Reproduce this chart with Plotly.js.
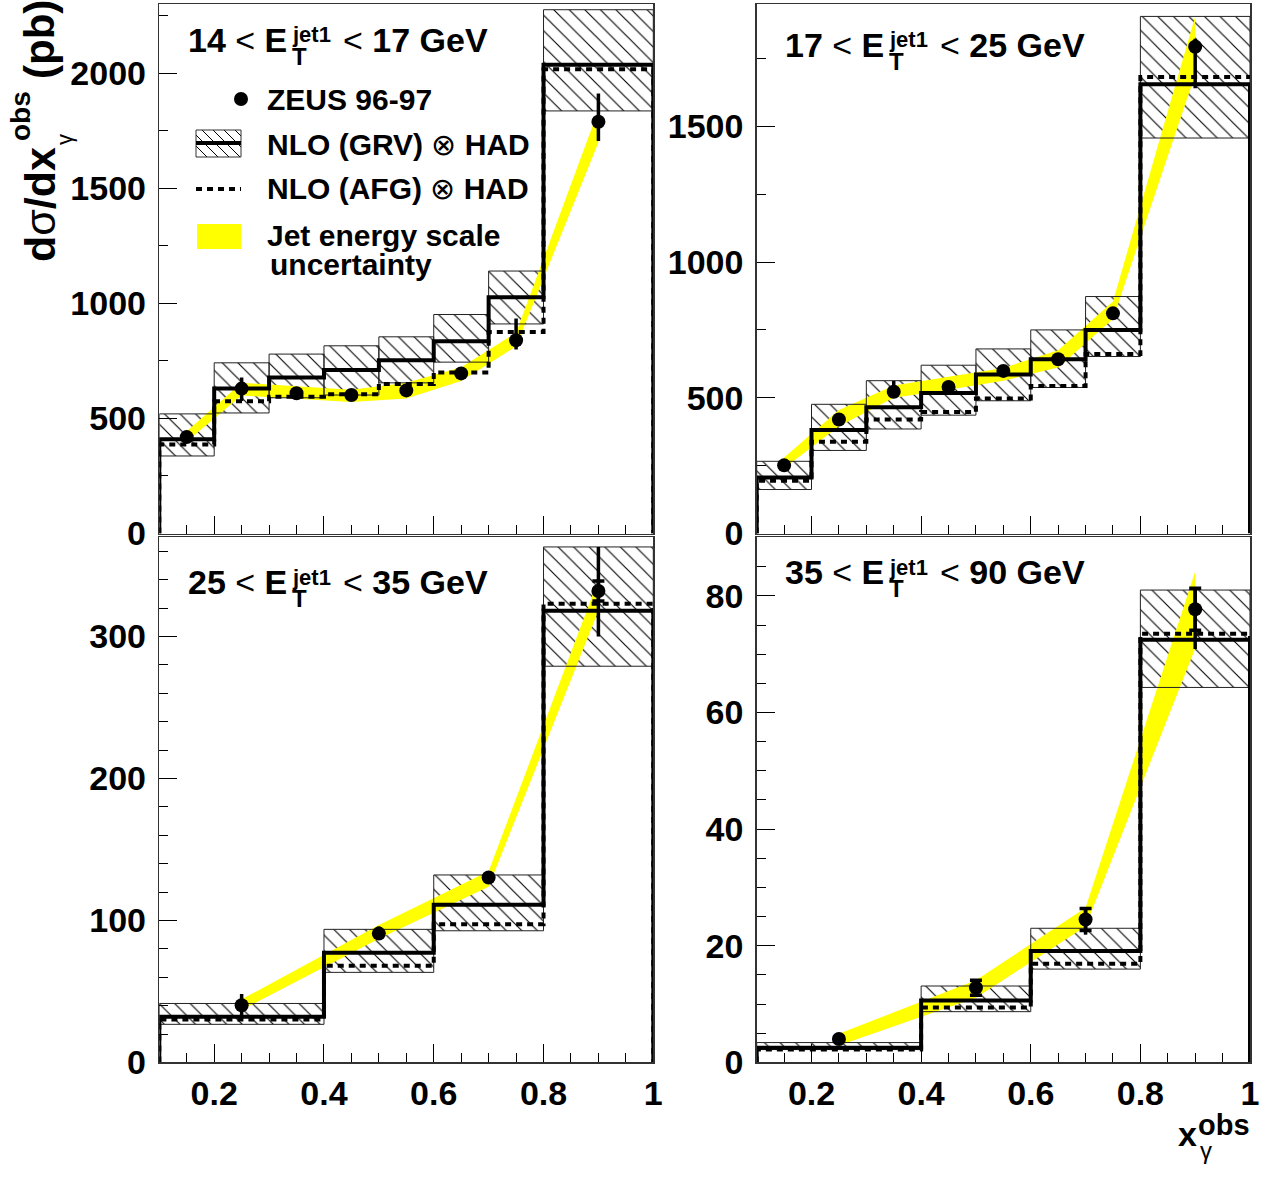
<!DOCTYPE html>
<html><head><meta charset="utf-8">
<script src="https://cdn.plot.ly/plotly-3.0.1.min.js"></script>
<style>html,body{margin:0;padding:0;background:#fff}</style>
</head><body><div id="chart" style="width:1274px;height:1177px"></div>
<script>
// ---------------- DATA ----------------
const edgesFine = [0.1,0.2,0.3,0.4,0.5,0.6,0.7,0.8,1.0];
const edgesCoarse = [0.1,0.4,0.6,0.8,1.0];
const centersFine = [0.15,0.25,0.35,0.45,0.55,0.65,0.75,0.9];
const centersCoarse = [0.25,0.5,0.7,0.9];
const xTickVals = [0.2,0.4,0.6,0.8,1.0];
const xTickText = ['0.2','0.4','0.6','0.8','1'];
const etLow = ['14','17','25','35'];
const etHigh = ['17','25','35','90'];

// panel 1: 14 < ET < 17 GeV
const p1GRV   = [410,630,678,711,753,836,1027,2038];
const p1AFG   = [387,575,595,605,650,700,876,2018];
const p1BoxHi = [520,742,780,816,855,952,1141,2277];
const p1BoxLo = [337,524,590,602,655,745,911,1837];
const p1Pts   = [419,630,610,602,622,696,840,1790];
const p1ErrUp = [20,48,20,15,20,20,95,123];
const p1ErrDn = [20,54,20,15,20,20,40,84];
const p1BandLo = [400,600,587,572,587,663,813,1700];
const p1BandHi = [445,655,640,625,655,723,873,1840];
const p1YTicks = [0,500,1000,1500,2000];

// panel 2: 17 < ET < 25 GeV
const p2GRV   = [206,381,465,518,586,642,750,1655];
const p2AFG   = [194,338,420,448,497,543,661,1682];
const p2BoxHi = [266,476,563,620,680,750,873,1905];
const p2BoxLo = [162,306,385,436,489,538,652,1457];
const p2Pts   = [251,420,522,540,599,642,811,1793];
const p2ErrUp = [12,20,40,15,15,15,20,30];
const p2ErrDn = [12,20,20,15,15,15,20,153];
const p2BandLo = [240,395,500,530,563,612,790,1690];
const p2BandHi = [280,455,545,578,610,675,855,1905];
const p2YTicks = [0,500,1000,1500];

// panel 3: 25 < ET < 35 GeV
const p3GRV   = [32.2,77.3,111,318];
const p3AFG   = [30.2,68,97.3,323];
const p3BoxHi = [41.5,93.7,132,363];
const p3BoxLo = [26.8,63.4,92.7,279];
const p3Pts   = [40.2,90.7,130.2,332];
const p3ErrUp = [8,5,3,31];
const p3ErrDn = [8,3,3,32];
const p3Stat  = [0,0,0,7];
const p3BandLo = [37,87,123.7,318];
const p3BandHi = [44.4,96.8,134.6,340];
const p3YTicks = [0,100,200,300];

// panel 4: 35 < ET < 90 GeV
const p4GRV   = [2.5,10.6,19.1,72.5];
const p4AFG   = [2.2,9.4,16.9,73.5];
const p4BoxHi = [3.4,13.1,23.0,81.0];
const p4BoxLo = [2.2,8.7,16.0,64.3];
const p4Pts   = [4.0,12.8,24.5,77.7];
const p4ErrUp = [0.5,1.3,2.0,3.6];
const p4ErrDn = [0.5,1.3,2.6,6.8];
const p4Stat  = [0.3,1.3,1.9,3.6];
const p4BandLo = [2.9,11.1,23.3,71];
const p4BandHi = [4.9,14.1,26.5,84.2];
const p4YTicks = [0,20,40,60,80];

// ---------------- LAYOUT HELPERS ----------------
const W = 1274, H = 1177;
const fx = p => p / W;
const fy = p => 1 - p / H;
const FONT = 'Liberation Sans, Arial, Helvetica, sans-serif';

const panels = [
  {left:159.3, right:653.3, top:4.2, bottom:533.5, yMax:2301, yMinor:250, yTicks:p1YTicks,
   edges:edgesFine, centers:centersFine, grv:p1GRV, afg:p1AFG, hi:p1BoxHi, lo:p1BoxLo,
   pts:p1Pts, eUp:p1ErrUp, eDn:p1ErrDn, stat:null, bLo:p1BandLo, bHi:p1BandHi, base:52, xlab:false},
  {left:756.7, right:1250, top:4.2, bottom:533.5, yMax:1950, yMinor:250, yTicks:p2YTicks,
   edges:edgesFine, centers:centersFine, grv:p2GRV, afg:p2AFG, hi:p2BoxHi, lo:p2BoxLo,
   pts:p2Pts, eUp:p2ErrUp, eDn:p2ErrDn, stat:null, bLo:p2BandLo, bHi:p2BandHi, base:57, xlab:false},
  {left:159.3, right:653.3, top:537, bottom:1062.4, yMax:370, yMinor:20, yTicks:p3YTicks,
   edges:edgesCoarse, centers:centersCoarse, grv:p3GRV, afg:p3AFG, hi:p3BoxHi, lo:p3BoxLo,
   pts:p3Pts, eUp:p3ErrUp, eDn:p3ErrDn, stat:p3Stat, bLo:p3BandLo, bHi:p3BandHi, base:594, xlab:true},
  {left:756.7, right:1250, top:537, bottom:1062.4, yMax:90.1, yMinor:5, yTicks:p4YTicks,
   edges:edgesCoarse, centers:centersCoarse, grv:p4GRV, afg:p4AFG, hi:p4BoxHi, lo:p4BoxLo,
   pts:p4Pts, eUp:p4ErrUp, eDn:p4ErrDn, stat:p4Stat, bLo:p4BandLo, bHi:p4BandHi, base:584, xlab:true}
];

function stepPath(edges, v){
  const x=[edges[0]], y=[0];
  for(let i=0;i<v.length;i++){ x.push(edges[i], edges[i+1]); y.push(v[i], v[i]); }
  x.push(edges[edges.length-1]); y.push(0);
  return {x, y};
}
function boxPath(edges, lo, hi){
  const x=[], y=[];
  for(let i=0;i<lo.length;i++){
    x.push(edges[i],edges[i+1],edges[i+1],edges[i],edges[i],null);
    y.push(lo[i],lo[i],hi[i],hi[i],lo[i],null);
  }
  return {x, y};
}

const traces = [];
const layout = {
  width: W, height: H, margin:{l:0,r:0,t:0,b:0},
  paper_bgcolor:'#fff', plot_bgcolor:'#fff', showlegend:false,
  font:{family:FONT, color:'#000'},
  annotations: [], shapes: []
};

panels.forEach((p, i) => {
  const s = i === 0 ? '' : String(i+1);
  const xa = 'x'+s, ya = 'y'+s;
  const box = boxPath(p.edges, p.lo, p.hi);
  // hatched uncertainty boxes (pattern)
  traces.push({type:'scatter', mode:'lines', x:box.x, y:box.y, xaxis:xa, yaxis:ya,
    fill:'toself', fillcolor:'rgba(0,0,0,0)', line:{width:0, color:'rgba(0,0,0,0)'},
    fillpattern:{shape:'\\', size:11, solidity:0.1, fgcolor:'#000', bgcolor:'rgba(0,0,0,0)', fillmode:'replace'},
    hoverinfo:'skip'});
  // yellow band
  const bx = p.centers.concat(p.centers.slice().reverse());
  const by = p.bHi.concat(p.bLo.slice().reverse());
  traces.push({type:'scatter', mode:'lines', x:bx, y:by, xaxis:xa, yaxis:ya,
    fill:'toself', fillcolor:'#ffff00', line:{width:0, color:'rgba(0,0,0,0)'}, hoverinfo:'skip'});
  // box borders
  traces.push({type:'scatter', mode:'lines', x:box.x, y:box.y, xaxis:xa, yaxis:ya,
    line:{width:1, color:'#222'}, hoverinfo:'skip'});
  // AFG dashed histogram
  const a = stepPath(p.edges, p.afg);
  traces.push({type:'scatter', mode:'lines', x:a.x, y:a.y, xaxis:xa, yaxis:ya,
    line:{width:4, color:'#000', dash:'6px,5px'}, hoverinfo:'skip'});
  // GRV solid histogram
  const g = stepPath(p.edges, p.grv);
  traces.push({type:'scatter', mode:'lines', x:g.x, y:g.y, xaxis:xa, yaxis:ya,
    line:{width:4, color:'#000'}, hoverinfo:'skip'});
  // statistical errors with caps
  if (p.stat){
    traces.push({type:'scatter', mode:'markers', x:p.centers, y:p.pts, xaxis:xa, yaxis:ya,
      marker:{size:1, color:'rgba(0,0,0,0)'},
      error_y:{type:'data', array:p.stat, visible:true, color:'#000', thickness:3.5, width:6},
      hoverinfo:'skip'});
  }
  // data points
  traces.push({type:'scatter', mode:'markers', x:p.centers, y:p.pts, xaxis:xa, yaxis:ya,
    marker:{size:14, color:'#000'},
    error_y:{type:'data', symmetric:false, array:p.eUp, arrayminus:p.eDn, visible:true, color:'#000', thickness:3.5, width:0},
    hoverinfo:'skip'});

  const common = {
    showline:true, mirror:true, linecolor:'#333', linewidth:1.5,
    ticks:'inside', ticklen:18, tickwidth:1, tickcolor:'#000',
    showgrid:false, zeroline:false, fixedrange:true,
    tickfont:{family:FONT, size:34, color:'#000', weight:'bold'}
  };
  layout['xaxis'+s] = Object.assign({}, common, {
    domain:[fx(p.left), fx(p.right)], range:[0.1,1.0], anchor:ya,
    tickmode:'array', tickvals:xTickVals, ticktext:xTickText, showticklabels:p.xlab,
    ticklabelstandoff:0,
    minor:{ticks:'inside', ticklen:9, tickmode:'linear', tick0:0.1, dtick:0.05, tickcolor:'#000', tickwidth:1, showgrid:false}
  });
  layout['yaxis'+s] = Object.assign({}, common, {
    domain:[fy(p.bottom), fy(p.top)], range:[0,p.yMax], anchor:xa,
    tickmode:'array', tickvals:p.yTicks, ticktext:p.yTicks.map(String),
    ticklabelstandoff:5,
    minor:{ticks:'inside', ticklen:9, tickmode:'linear', tick0:0, dtick:p.yMinor, tickcolor:'#000', tickwidth:1, showgrid:false}
  });

  // panel title:  lo < E_T^jet1 < hi GeV
  const L = p.left, b = p.base;
  layout.annotations.push(
    {xref:'paper', yref:'paper', x:fx(L+129.7), y:fy(b-11.8), xanchor:'right', yanchor:'middle', showarrow:false,
     text:'<b>'+etLow[i]+'</b> &lt; <b>E</b>', font:{family:FONT, size:34, color:'#000'}},
    {xref:'paper', yref:'paper', x:fx(L+130.2), y:fy(b-17), xanchor:'left', yanchor:'middle', showarrow:false,
     text:'<b>jet1</b>', font:{family:FONT, size:22, color:'#000'}},
    {xref:'paper', yref:'paper', x:fx(L+130.2), y:fy(b+4.5), xanchor:'left', yanchor:'middle', showarrow:false,
     text:'<b>T</b>', font:{family:FONT, size:24, color:'#000'}},
    {xref:'paper', yref:'paper', x:fx(L+181.7), y:fy(b-11.8), xanchor:'left', yanchor:'middle', showarrow:false,
     text:'&lt; <b>'+etHigh[i]+' GeV</b>', font:{family:FONT, size:34, color:'#000'}}
  );
});

// ---- y axis title (rotated) ----
layout.annotations.push(
  {xref:'paper', yref:'paper', x:fx(40), y:fy(205), xanchor:'center', yanchor:'middle', showarrow:false, textangle:-90,
   text:'<b>d</b>σ<b>/dx</b>', font:{family:FONT, size:43, color:'#000'}},
  {xref:'paper', yref:'paper', x:fx(21), y:fy(116), xanchor:'center', yanchor:'middle', showarrow:false, textangle:-90,
   text:'<b>obs</b>', font:{family:FONT, size:28, color:'#000'}},
  {xref:'paper', yref:'paper', x:fx(64), y:fy(140), xanchor:'center', yanchor:'middle', showarrow:false, textangle:-90,
   text:'γ', font:{family:FONT, size:22, color:'#000'}},
  {xref:'paper', yref:'paper', x:fx(40), y:fy(40), xanchor:'center', yanchor:'middle', showarrow:false, textangle:-90,
   text:'<b>(pb)</b>', font:{family:FONT, size:42, color:'#000'}}
);
// ---- x axis title ----
layout.annotations.push(
  {xref:'paper', yref:'paper', x:fx(1176), y:fy(1133.5), xanchor:'left', yanchor:'middle', showarrow:false,
   text:'<b>x</b>', font:{family:FONT, size:34, color:'#000'}},
  {xref:'paper', yref:'paper', x:fx(1196), y:fy(1125.3), xanchor:'left', yanchor:'middle', showarrow:false,
   text:'<b>obs</b>', font:{family:FONT, size:29, color:'#000'}},
  {xref:'paper', yref:'paper', x:fx(1198), y:fy(1150), xanchor:'left', yanchor:'middle', showarrow:false,
   text:'γ', font:{family:FONT, size:24, color:'#000'}}
);

// ---- legend (top-left panel) ----
const legItems = [
  {text:'<b>ZEUS 96-97</b>', y:99.5, x:265},
  {text:'<b>NLO (GRV)</b> ⊗ <b>HAD</b>', y:144, x:265},
  {text:'<b>NLO (AFG)</b> ⊗ <b>HAD</b>', y:189, x:265},
  {text:'<b>Jet energy scale</b>', y:235.5, x:265},
  {text:'<b>uncertainty</b>', y:264, x:268}
];
legItems.forEach(it => layout.annotations.push(
  {xref:'paper', yref:'paper', x:fx(it.x), y:fy(it.y), xanchor:'left', yanchor:'middle', showarrow:false,
   text:it.text, font:{family:FONT, size:30, color:'#000'}}));

// bullet
layout.shapes.push({type:'circle', xref:'paper', yref:'paper',
  x0:fx(234), x1:fx(248), y0:fy(106), y1:fy(92), fillcolor:'#000', line:{width:0}});
// hatched box with solid line
const bx0=196, bx1=241, by0=130, by1=157;
let hp = '';
for (let k=-(by1-by0); k<(bx1-bx0); k+=11){
  let t0 = Math.max(0, -k), t1 = Math.min(by1-by0, (bx1-bx0)-k);
  if (t1<=t0) continue;
  hp += 'M'+fx(bx0+k+t0)+','+fy(by0+t0)+' L'+fx(bx0+k+t1)+','+fy(by0+t1)+' ';
}
layout.shapes.push({type:'path', xref:'paper', yref:'paper', path:hp, line:{color:'#000', width:1}});
layout.shapes.push({type:'rect', xref:'paper', yref:'paper', x0:fx(bx0), x1:fx(bx1), y0:fy(by1), y1:fy(by0),
  line:{color:'#333', width:1}, fillcolor:'rgba(0,0,0,0)'});
layout.shapes.push({type:'line', xref:'paper', yref:'paper', x0:fx(bx0), x1:fx(bx1), y0:fy(143), y1:fy(143),
  line:{color:'#000', width:4}});
// dashed line
layout.shapes.push({type:'line', xref:'paper', yref:'paper', x0:fx(196), x1:fx(241), y0:fy(189), y1:fy(189),
  line:{color:'#000', width:4, dash:'6px,5px'}});
// yellow box
layout.shapes.push({type:'rect', xref:'paper', yref:'paper', x0:fx(197), x1:fx(241), y0:fy(249), y1:fy(224),
  fillcolor:'#ffff00', line:{width:0}});

Plotly.newPlot('chart', traces, layout, {staticPlot:true, displayModeBar:false});
</script>
</body></html>
